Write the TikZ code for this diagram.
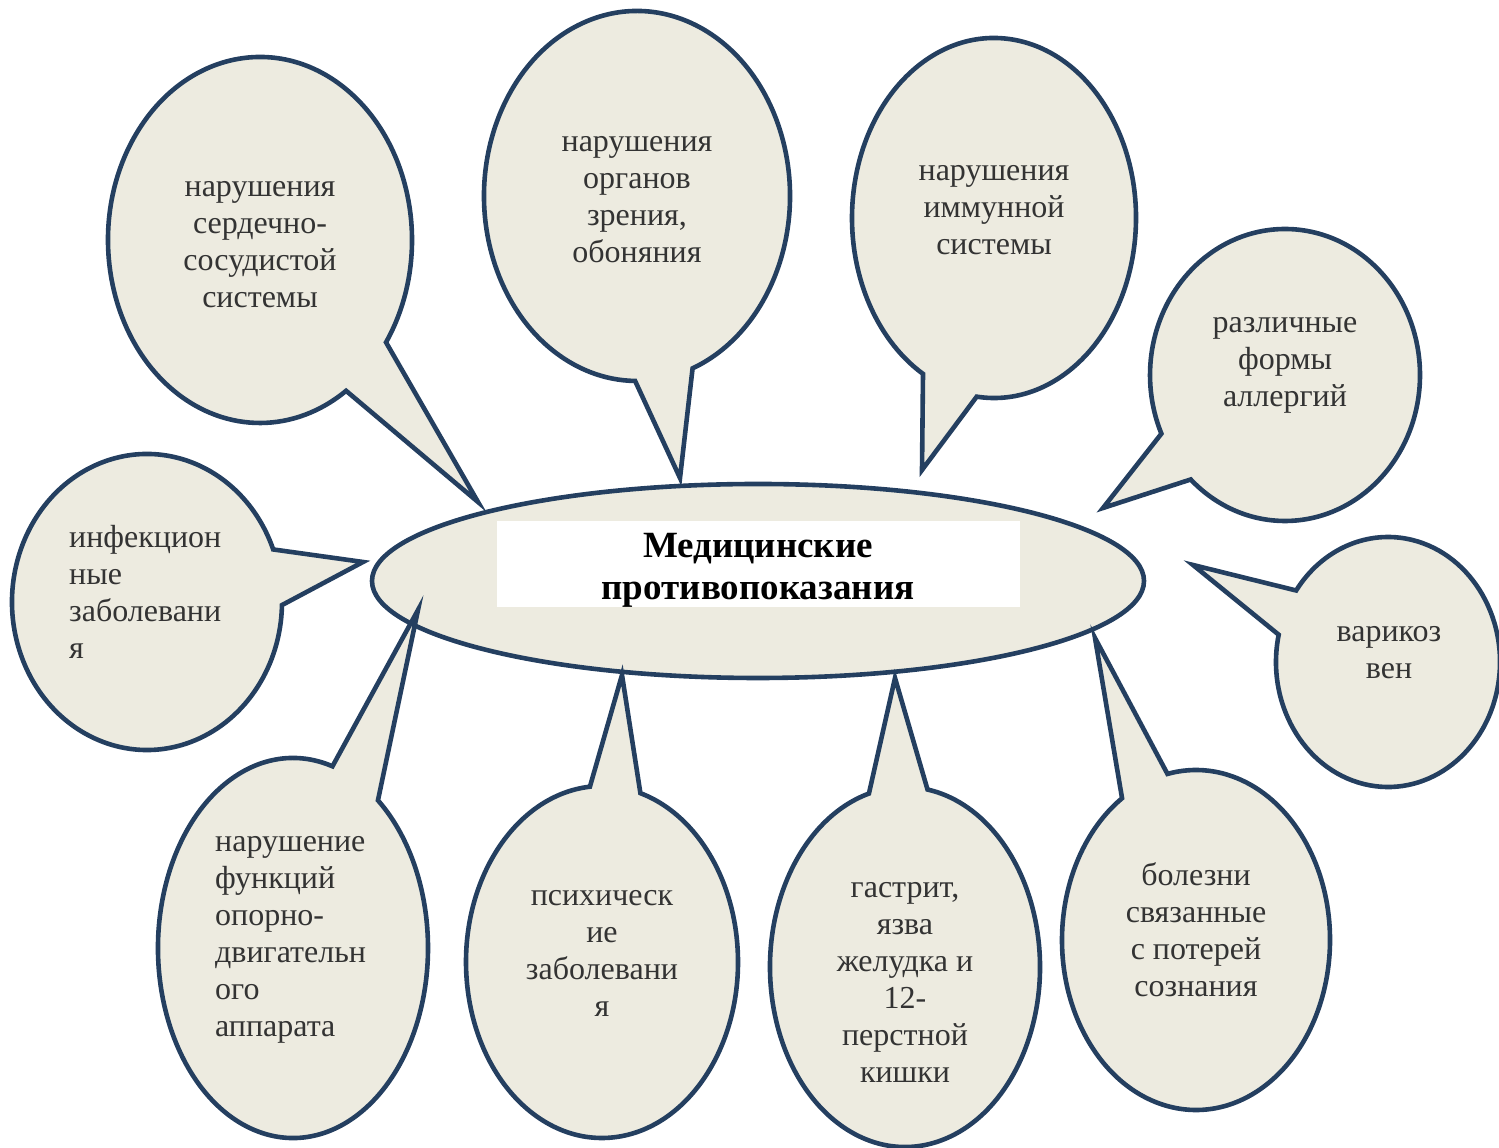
\documentclass[tikz,border=0pt]{standalone}
\usepackage{fontspec}
\setmainfont{Liberation Serif}
\usetikzlibrary{calc}
\definecolor{bubfill}{HTML}{EDEBE0}
\definecolor{bubline}{HTML}{243F60}
\definecolor{txtgray}{HTML}{333333}
% #1 centre "x,y", #2 rx, #3 ry, #4 start angle, #5 end angle, #6 tip coordinate name
\newcommand\callout[6]{\path[bub] (#6) -- ($(#1)+(#4:#2pt and #3pt)$)
  arc[start angle=#4, end angle=#5, x radius=#2pt, y radius=#3pt] -- cycle;}
\begin{document}
\begin{tikzpicture}[x=1pt,y=1pt,
  bub/.style={fill=bubfill, draw=bubline, line width=4.6pt, line join=miter, miter limit=20},
  lbl/.style={font=\fontsize{32}{37}\selectfont, text=txtgray, align=center, inner sep=0pt},
  lbll/.style={lbl, align=left, anchor=west},
  ttl/.style={font=\fontsize{37}{42}\selectfont\bfseries, text=black, align=center, inner sep=0pt}]
\useasboundingbox (0,0) rectangle (1499,1148);

% central ellipse
\path[bub] (758,567) ellipse[x radius=386pt, y radius=97pt];
\node[fill=white, minimum width=523pt, minimum height=86pt, inner sep=0pt] (box) at (758.5,584) {};

% pointer tips
\coordinate (t1) at (478,646);
\coordinate (t2) at (680,670);
\coordinate (t3) at (922,678);
\coordinate (t4) at (1103,640);
\coordinate (t5) at (1193,583);
\coordinate (t6) at (1095,510);
\coordinate (t7) at (895,470);
\coordinate (t8) at (622,473);
\coordinate (t9) at (418,538);
\coordinate (t10) at (363,586);

% callout bubbles
\callout{260,908}{152}{183}{-34}{304.5}{t1}
\callout{637,952}{153}{185}{-68.7}{269.3}{t2}
\callout{994,930}{142}{180}{-97}{240}{t3}
\callout{1285,773}{135}{146}{225.7}{563.7}{t4}
\callout{1388,486}{112}{125}{167.4}{505.1}{t5}
\callout{1196,208}{134}{170}{123.5}{462.3}{t6}
\callout{905,181}{135}{180}{105.5}{440.4}{t7}
\callout{602,186}{136}{176}{95.1}{433.6}{t8}
\callout{293,200}{135}{190}{73}{411}{t9}
\callout{147,546}{135}{148}{20.8}{358.8}{t10}

% texts
\node[ttl] (title) at (758,578) {Медицинские\\противопоказания};
\node[lbl] (n1) at (260,903) {нарушения\\сердечно-\\сосудистой\\системы};
\node[lbl] (n2) at (637,948) {нарушения\\органов\\зрения,\\обоняния};
\node[lbl] (n3) at (994,938) {нарушения\\иммунной\\системы};
\node[lbl] (n4) at (1285,783) {различные\\формы\\аллергий};
\node[lbl] (n5) at (1389,495) {варикоз\\вен};
\node[lbl] (n6) at (1196,218) {болезни\\связанные\\с потерей\\сознания};
\node[lbl] (n7) at (905,166) {гастрит,\\язва\\желудка и\\12-\\перстной\\кишки};
\node[lbl] (n8) at (602,195) {психическ\\ие\\заболевани\\я};
\node[lbll] (n9) at (215,208) {нарушение\\функций\\опорно-\\двигательн\\ого\\аппарата};
\node[lbll] (n10) at (69,556) {инфекцион\\ные\\заболевани\\я};
\end{tikzpicture}
\end{document}
